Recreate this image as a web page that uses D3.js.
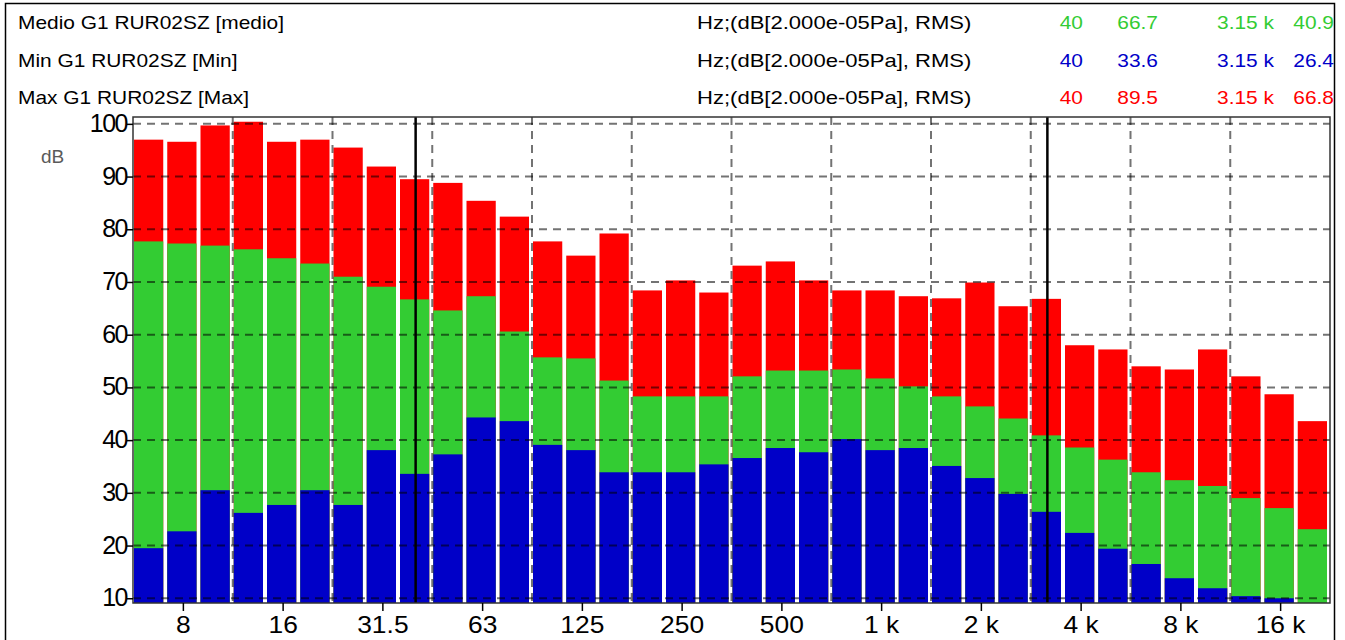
<!DOCTYPE html>
<html>
<head>
<meta charset="utf-8">
<script src="https://cdn.jsdelivr.net/npm/d3@7"></script>
<style>
  body { margin: 0; background: #fff; }
  svg { display: block; font-family: "Liberation Sans", Arial, sans-serif; }
</style>
</head>
<body>
<div class="chart"></div>
<script>
const width = 1345
const height = 640

// 1/3 octave bands, nominal labels
const bands = ["6.3","8","10","12.5","16","20","25","31.5","40","50","63","80","100","125","160","200","250","315","400","500","630","800","1 k","1.25 k","1.6 k","2 k","2.5 k","3.15 k","4 k","5 k","6.3 k","8 k","10 k","12.5 k","16 k","20 k"]

const maxVals = [97.0, 96.6, 99.7, 100.4, 96.6, 97.0, 95.5, 91.9, 89.5, 88.8, 85.4, 82.4, 77.7, 75.0, 79.2, 68.4, 70.3, 68.0, 73.1, 73.9, 70.3, 68.4, 68.4, 67.3, 66.9, 69.9, 65.4, 66.8, 58.0, 57.2, 54.0, 53.4, 57.2, 52.1, 48.7, 43.6]
const medioVals = [77.7, 77.3, 76.9, 76.2, 74.5, 73.5, 71.0, 69.1, 66.7, 64.6, 67.3, 60.6, 55.7, 55.5, 51.3, 48.3, 48.3, 48.3, 52.1, 53.2, 53.2, 53.4, 51.7, 50.2, 48.3, 46.4, 44.1, 40.9, 38.6, 36.3, 33.9, 32.4, 31.3, 29.0, 27.1, 23.1]
const minVals = [19.5, 22.7, 30.5, 26.2, 27.7, 30.5, 27.7, 38.1, 33.6, 37.3, 44.3, 43.6, 39.1, 38.1, 33.9, 33.9, 33.9, 35.4, 36.6, 38.5, 37.7, 40.2, 38.1, 38.5, 35.1, 32.8, 29.8, 26.4, 22.4, 19.4, 16.5, 13.8, 11.9, 10.4, 10.0, 8.5]

const xTickBands = ["8","16","31.5","63","125","250","500","1 k","2 k","4 k","8 k","16 k"]
const yTicks = [10, 20, 30, 40, 50, 60, 70, 80, 90, 100]
const cursorBands = ["40", "3.15 k"]

const legendNames = ["Medio G1 RUR02SZ [medio]", "Min G1 RUR02SZ [Min]", "Max G1 RUR02SZ [Max]"]
const legendUnit = "Hz;(dB[2.000e-05Pa], RMS)"
const legendValues = [["40", "66.7", "3.15 k", "40.9"], ["40", "33.6", "3.15 k", "26.4"], ["40", "89.5", "3.15 k", "66.8"]]

const colors = { medio: "#33cc33", min: "#0000c8", max: "#ff0000" }
const legendColors = [colors.medio, colors.min, colors.max]

// exact centre frequency of band i (1 kHz is band 22)
const centre = i => 1000 * Math.pow(2, (i - 22) / 3)
const edgeLo = i => centre(i) * Math.pow(2, -1/6)
const edgeHi = i => centre(i) * Math.pow(2, 1/6)

// the analyser font is drawn a bit wider than Arial
function widen(sel, k) {
  sel.each(function() {
    const w = this.getComputedTextLength()
    d3.select(this).attr("textLength", w * k).attr("lengthAdjust", "spacingAndGlyphs")
  })
}

const plot = {left: 133, right: 1330, top: 117, bottom: 603}

const svg = d3.select('.chart').append("svg")
    .attr("width", width)
    .attr("height", height)

const x = d3.scaleLog()
    .domain([edgeLo(0), edgeHi(bands.length - 1)])
    .range([plot.left, plot.right])

const y = d3.scaleLinear()
    .domain([9.1, 101.3])
    .range([plot.bottom, plot.top])

// outer frame
svg.append("rect")
    .attr("x", 5.5).attr("y", 3.5)
    .attr("width", 1329).attr("height", 660)
    .attr("fill", "none")
    .attr("stroke", "#000")
    .attr("stroke-width", 1.5)

// legend rows
const rowY = [29, 67, 104]
const valueEnds = [1083, 1158, 1274, 1334]
const legend = svg.append("g").attr("font-size", 19)
legendNames.forEach((name, r) => {
  legend.append("text").attr("class", "lt").attr("x", 18).attr("y", rowY[r]).attr("fill", "#000").text(name)
  legend.append("text").attr("class", "lt unit").attr("x", 697).attr("y", rowY[r]).attr("fill", "#000").text(legendUnit)
  legendValues[r].forEach((v, k) => {
    legend.append("text")
      .attr("class", "lt")
      .attr("x", valueEnds[k]).attr("y", rowY[r])
      .attr("text-anchor", "end")
      .attr("fill", legendColors[r])
      .text(v)
  })
})
widen(legend.selectAll("text.lt:not(.unit)"), 1.1)
widen(legend.selectAll("text.unit"), 1.16)

// bars: max (red) behind, medio (green), min (blue) in front
const barG = svg.append("g")
const series = [
  {vals: maxVals, color: colors.max},
  {vals: medioVals, color: colors.medio},
  {vals: minVals, color: colors.min}
]
series.forEach(s => {
  barG.append("g").selectAll("rect")
    .data(s.vals)
    .join("rect")
      .attr("x", (d, i) => x(edgeLo(i)) + 1)
      .attr("width", (d, i) => x(edgeHi(i)) - x(edgeLo(i)) - 4)
      .attr("y", d => y(Math.max(d, y.domain()[0])))
      .attr("height", d => plot.bottom - y(Math.max(d, y.domain()[0])))
      .attr("fill", s.color)
})

// grid on top of bars
const grid = svg.append("g")
    .attr("stroke", "#000")
    .attr("stroke-opacity", 0.55)
    .attr("stroke-width", 2)
    .attr("stroke-dasharray", "8,6")

grid.selectAll("line.h")
  .data(yTicks)
  .join("line")
    .attr("class", "h")
    .attr("x1", plot.left).attr("x2", plot.right)
    .attr("y1", d => y(d)).attr("y2", d => y(d))

const octaveEdges = d3.range(2, bands.length - 1, 3).map(i => edgeHi(i))
grid.selectAll("line.v")
  .data(octaveEdges)
  .join("line")
    .attr("class", "v")
    .attr("x1", d => x(d)).attr("x2", d => x(d))
    .attr("y1", plot.top).attr("y2", plot.bottom)

// cursors
svg.append("g").selectAll("line")
  .data(cursorBands.map(b => centre(bands.indexOf(b))))
  .join("line")
    .attr("x1", d => x(d)).attr("x2", d => x(d))
    .attr("y1", plot.top).attr("y2", plot.bottom)
    .attr("stroke", "#000")
    .attr("stroke-width", 2.5)

// plot border
svg.append("rect")
    .attr("x", plot.left).attr("y", plot.top)
    .attr("width", plot.right - plot.left).attr("height", plot.bottom - plot.top)
    .attr("fill", "none")
    .attr("stroke", "#333")
    .attr("stroke-width", 1.5)

// axes
const yAxis = svg.append("g")
    .attr("transform", `translate(${plot.left},0)`)
    .call(d3.axisLeft(y).tickValues(yTicks).tickSize(6).tickPadding(0))
yAxis.select(".domain").remove()
yAxis.selectAll("line").attr("stroke", "#000").attr("stroke-width", 1.5)
yAxis.selectAll("text")
    .attr("font-size", 25)
    .attr("letter-spacing", -1.5)
    .attr("font-family", "'Liberation Sans', Arial, sans-serif")
    .attr("fill", "#000")
    .attr("dy", "0.3em")

const xAxis = svg.append("g")
    .attr("transform", `translate(0,${plot.bottom})`)
    .call(d3.axisBottom(x)
      .tickValues(xTickBands.map(b => centre(bands.indexOf(b))))
      .tickFormat((d, i) => xTickBands[i])
      .tickSize(8).tickPadding(5))
xAxis.select(".domain").remove()
xAxis.selectAll("line").attr("stroke", "#000").attr("stroke-width", 1.5)
xAxis.selectAll("text")
    .attr("font-size", 24)
    .attr("font-family", "'Liberation Sans', Arial, sans-serif")
    .attr("fill", "#000")
widen(xAxis.selectAll("text"), 1.1)

svg.append("text")
    .attr("x", 41).attr("y", 163)
    .attr("font-size", 19)
    .attr("fill", "#5a5a5a")
    .text("dB")
</script>
</body>
</html>
